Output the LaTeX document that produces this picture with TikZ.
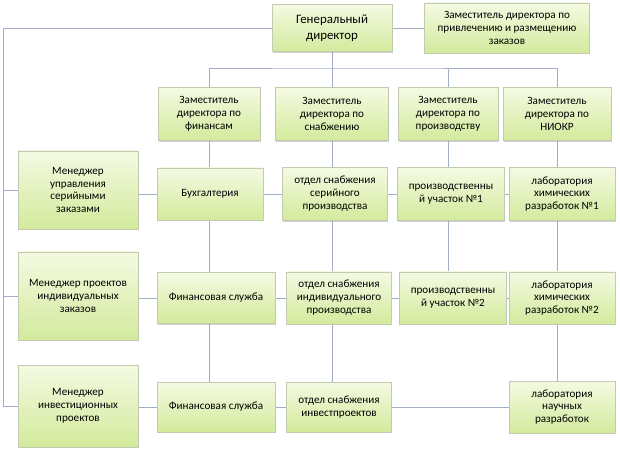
\documentclass[tikz,border=0pt]{standalone}
\usepackage{fontspec}
\setmainfont{Carlito}
\usetikzlibrary{positioning,shadows,backgrounds}

\definecolor{boxtop}{HTML}{F4FAE2}
\definecolor{boxbot}{HTML}{D3EA9C}
\definecolor{boxline}{HTML}{C2CAB0}
\definecolor{linkcol}{HTML}{A3ACC8}

\tikzset{
  box/.style={draw=boxline, line width=0.5pt, top color=boxtop, bottom color=boxbot,
    drop shadow={shadow xshift=0.6pt, shadow yshift=-0.9pt, opacity=0.35},
    align=center, inner sep=1pt, font=\fontsize{9.5}{11}\selectfont},
  wh/.style 2 args={minimum width=#1*0.3mm, minimum height=#2*0.3mm},
  link/.style={draw=linkcol, line width=0.8pt}
}

\begin{document}
\begin{tikzpicture}[x=0.3mm,y=-0.3mm]
\useasboundingbox (0,0) rectangle (620,450);

% top
\node [box,wh={120}{47},font=\fontsize{11}{13.5}\selectfont] (gd) at (332,28) {Генеральный\\директор};
\node [box,wh={165}{50}] (zamzak) at (507,28) {Заместитель директора по\\привлечению и размещению\\заказов};

% deputies
\node [box,wh={102}{53}] (zfin) at (209,114) {Заместитель\\директора по\\финансам};
\node [box,wh={113}{53}] (zsnab) at (332,114) {Заместитель\\директора по\\снабжению};
\node [box,wh={100}{53}] (zproizv) at (448,114) {Заместитель\\директора по\\производству};
\node [box,wh={108}{53}] (zniokr) at (557,114) {Заместитель\\директора по\\НИОКР};

% row 1
\node [box,wh={120}{78}] (man1) at (78,190) {Менеджер\\управления\\серийными\\заказами};
\node [box,wh={106}{52}] (buh) at (210,194) {Бухгалтерия};
\node [box,wh={105}{53}] (os1) at (335,194) {отдел снабжения\\серийного\\производства};
\node [box,wh={107}{53}] (pu1) at (451,194) {производственны\\й участок №1};
\node [box,wh={106}{53}] (lab1) at (562,194) {лаборатория\\химических\\разработок №1};

% row 2
\node [box,wh={120}{88}] (man2) at (78,296) {Менеджер проектов\\индивидуальных\\заказов};
\node [box,wh={118}{51}] (fs1) at (216,298) {Финансовая служба};
\node [box,wh={105}{52}] (os2) at (339,298) {отдел снабжения\\индивидуального\\производства};
\node [box,wh={107}{52}] (pu2) at (453,298) {производственны\\й участок №2};
\node [box,wh={106}{52}] (lab2) at (562,298) {лаборатория\\химических\\разработок №2};

% row 3
\node [box,wh={120}{82}] (man3) at (78,406) {Менеджер\\инвестиционных\\проектов};
\node [box,wh={118}{50}] (fs2) at (216,407) {Финансовая служба};
\node [box,wh={105}{50}] (os3) at (339,407) {отдел снабжения\\инвестпроектов};
\node [box,wh={106}{52}] (lab3) at (562,407) {лаборатория\\научных\\разработок};

\coordinate (bus) at (3,0);
\coordinate (hub) at (332,68);

\begin{pgfonlayer}{background}
% left bus
\draw [link] (gd.west) -| (bus |- man3.west) -- (man3.west);
\draw [link] (bus |- man1.west) -- (man1.west);
\draw [link] (bus |- man2.west) -- (man2.west);
\draw [link] (gd.east) -- (zamzak.west);
% to deputies
\draw [link] (gd) -- (hub);
\draw [link] (zfin) |- (hub) -| (zniokr);
\draw [link] (hub) -- (zsnab);
\draw [link] (zproizv) -- (zproizv |- hub);
% columns
\draw [link] (zfin) -- (zfin |- fs2);
\draw [link] (zsnab) -- (zsnab |- os3);
\draw [link] (zproizv) -- (zproizv |- pu2);
\draw [link] (zniokr) -- (zniokr |- lab3);
% rows
\draw [link] (man1.east |- buh) -- (lab1);
\draw [link] (man2.east |- fs1) -- (lab2);
\draw [link] (man3.east |- fs2) -- (lab3);
\end{pgfonlayer}
\end{tikzpicture}
\end{document}
